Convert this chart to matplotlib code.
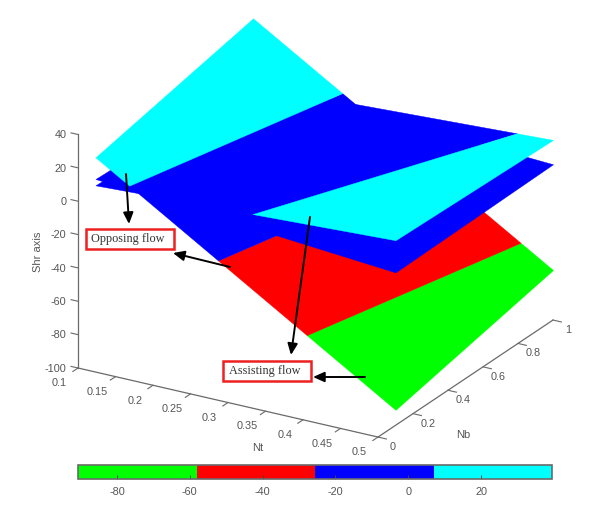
import numpy as np
import matplotlib
matplotlib.use("Agg")
import matplotlib.pyplot as plt
from matplotlib.colors import ListedColormap, Normalize
from matplotlib.cm import ScalarMappable
from matplotlib.patches import Rectangle, FancyArrowPatch
from matplotlib.transforms import Affine2D
from mpl_toolkits.mplot3d import proj3d
from mpl_toolkits.mplot3d.art3d import Poly3DCollection

plt.rcParams['font.family'] = ['Liberation Sans', 'DejaVu Sans']

# ---- data ----
nt_edges = [0.1, 0.5]
nb_edges = [0.1, 1.0]
# Shr at [[Nt0,Nb0],[Nt0,Nb1]],[[Nt1,Nb0],[Nt1,Nb1]]
shr_main = [[19.3, 39.5], [-90.7, -70.0]]
shr_upper = [[2.5, -0.7], [11.0, 8.0]]
shr_middle = [[6.3, 2.4], [-8.3, -6.6]]
band_colors = ['#00ff00', '#ff0000', '#0000ff', '#00ffff']
nt_ticks = [0.1, 0.15, 0.2, 0.25, 0.3, 0.35, 0.4, 0.45, 0.5]
nt_labels = ['0.1', '0.15', '0.2', '0.25', '0.3', '0.35', '0.4', '0.45', '0.5']
nb_ticks = [0, 0.2, 0.4, 0.6, 0.8, 1]
nb_labels = ['0', '0.2', '0.4', '0.6', '0.8', '1']
shr_ticks = [-100, -80, -60, -40, -20, 0, 20, 40]
cbar_ticks = [-80, -60, -40, -20, 0, 20]

W, H = 594, 518
GRAY = '#6a6a6a'
TXT = '#555555'
fig = plt.figure(figsize=(W / 100, H / 100), dpi=100)
ax = fig.add_axes([0, 0, 1, 1], projection='3d')
ax.set_proj_type('ortho')
ax.view_init(elev=23.1, azim=-59.6)
ax.computed_zorder = False
ax.patch.set_alpha(0)

vmin = min(np.min(shr_main), np.min(shr_upper), np.min(shr_middle))
vmax = max(np.max(shr_main), np.max(shr_upper), np.max(shr_middle))
levels = np.linspace(vmin, vmax, len(band_colors) + 1)


def clip(poly, level, above):
    out = []
    for i, p in enumerate(poly):
        q = poly[(i + 1) % len(poly)]
        pin = p[2] >= level if above else p[2] <= level
        qin = q[2] >= level if above else q[2] <= level
        if pin:
            out.append(p)
        if pin != qin:
            f = (level - p[2]) / (q[2] - p[2])
            out.append(tuple(a + f * (b - a) for a, b in zip(p, q)))
    return out


def band_poly(z, lo, hi):
    quad = [(nt_edges[0], nb_edges[0], z[0][0]),
            (nt_edges[1], nb_edges[0], z[1][0]),
            (nt_edges[1], nb_edges[1], z[1][1]),
            (nt_edges[0], nb_edges[1], z[0][1])]
    return clip(clip(quad, lo, True), hi, False)


def add_surface(z, bands, zorder):
    for i in bands:
        poly = band_poly(z, levels[i], levels[i + 1])
        if len(poly) >= 3:
            col = Poly3DCollection([poly], facecolor=band_colors[i],
                                   edgecolor=band_colors[i], linewidths=0.3,
                                   zorder=zorder)
            ax.add_collection3d(col)


add_surface(shr_main, [0, 1, 2], 1)
add_surface(shr_middle, [0, 1, 2, 3], 2)
add_surface(shr_upper, [0, 1, 2, 3], 3)
add_surface(shr_main, [3], 4)

ax.set_xlim(0.1, 0.5, view_margin=0)
ax.set_ylim(0, 1, view_margin=0)
ax.set_zlim(-100, 40, view_margin=0)
ax.grid(False)
for axis in (ax.xaxis, ax.yaxis, ax.zaxis):
    axis.set_pane_color((1, 1, 1, 0))
    axis.pane.set_edgecolor((1, 1, 1, 0))
    axis.line.set_color(GRAY)
    axis.line.set_linewidth(0.9)
    axis._axinfo['tick']['linewidth'] = {True: 0.8, False: 0.5}
    axis._axinfo['tick']['color'] = GRAY

ax.set_xticks(nt_ticks, nt_labels)
ax.set_yticks(nb_ticks, nb_labels)
ax.set_zticks(shr_ticks, [str(v) for v in shr_ticks])
ax.zaxis.set_ticks_position('lower')
ax.zaxis.set_label_position('lower')
ax.zaxis._get_tickdir = lambda position: 0   # Shr ticks run along Nt, as in the reference
ax.tick_params(axis='both', labelsize=7.8, labelcolor=TXT, color=GRAY)
ax.tick_params(axis='z', labelsize=7.8, labelcolor=TXT, color=GRAY)
ax.xaxis._axinfo['tick']['inward_factor'] = 0.37
ax.xaxis._axinfo['tick']['outward_factor'] = 0.0
ax.yaxis._axinfo['tick']['inward_factor'] = 0.35
ax.yaxis._axinfo['tick']['outward_factor'] = 0.0
ax.zaxis._axinfo['tick']['inward_factor'] = 0.0
ax.zaxis._axinfo['tick']['outward_factor'] = 0.29
ax.set_xlabel('Nt', fontsize=8, color=TXT, labelpad=4)
ax.set_ylabel('Nb', fontsize=8, color=TXT, labelpad=4)
ax.set_zlabel('Shr axis', fontsize=8, color=TXT, labelpad=4)


# fit the 3D box onto the reference's pixel frame
def px(x, y, z):
    X, Y, _ = proj3d.proj_transform(x, y, z, ax.get_proj())
    return ax.transData.transform((X, Y))


aspect = (348, 346, 254)
zoom = 1.0
ax.set_box_aspect(aspect, zoom=zoom)
for _ in range(3):
    fig.canvas.draw()
    p0 = px(0.1, 0, -100)
    p1 = px(0.5, 1, -100)
    zoom *= 475 / (p1[0] - p0[0])
    ax.set_box_aspect(aspect, zoom=zoom)
fig.canvas.draw()
p0 = px(0.1, 0, -100)
ax.set_position([(78 - p0[0]) / W, (H - 368 - p0[1]) / H, 1, 1])


# mplot3d resets text transforms on every draw, so shift them at draw time
def nudge(artist, dx, dy):
    original = artist.draw

    def draw(renderer):
        artist._transform = ax.transData + Affine2D().translate(dx, -dy)
        original(renderer)

    artist.draw = draw


tick_shift = {ax.xaxis: (-8, -10.5), ax.yaxis: (-3, -13), ax.zaxis: (16.5, -7)}
title_shift = {ax.xaxis: (52, 0), ax.yaxis: (-41, 18), ax.zaxis: (21, -6)}
for axis, (dx, dy) in tick_shift.items():
    for tick in axis.get_major_ticks():
        nudge(tick.label1, dx, dy)
for tick in ax.zaxis.get_major_ticks():
    tick.label1.set_ha('right')
for axis, (dx, dy) in title_shift.items():
    nudge(axis.label, dx, dy)

# colour bar
cax = fig.add_axes([78 / W, 1 - 479 / H, 474 / W, 14 / H])
sm = ScalarMappable(norm=Normalize(vmin, vmax), cmap=ListedColormap(band_colors))
cb = fig.colorbar(sm, cax=cax, orientation='horizontal')
cb.set_ticks(cbar_ticks, labels=[str(v) for v in cbar_ticks])
cb.ax.tick_params(direction='in', length=3, width=0.7, color='#444444',
                  labelsize=7.8, labelcolor=TXT, pad=6)
cb.outline.set_edgecolor(GRAY)
cb.outline.set_linewidth(1.2)

# annotations in pixel coordinates of the figure
pix = Affine2D().scale(1, -1).translate(0, H)
boxes = [('Opposing flow', 86, 229, 88, 20), ('Assisting flow', 223, 361, 88, 20)]
for label, x, y, w, h in boxes:
    fig.add_artist(Rectangle((x, y), w, h, transform=pix, fill=True, fc='white',
                             ec='#ee2020', lw=1.8, zorder=10))
    fig.text(x + w / 2 - 2.5, y + h / 2, label, transform=pix, family='Liberation Serif',
             fontsize=8.8, color='#333333', ha='center', va='center', zorder=11)
arrows = [((126, 174), (129, 224)), ((230, 267), (173, 253)),
          ((310, 217), (291, 355)), ((365, 377), (313, 377))]
for start, end in arrows:
    fig.add_artist(FancyArrowPatch(
        start, end, transform=pix, arrowstyle='-|>,head_length=4.5,head_width=2.0',
        color='black', lw=1.4, shrinkA=0, shrinkB=0, mutation_scale=1.5, zorder=12))

fig.savefig('out.png', dpi=100)
